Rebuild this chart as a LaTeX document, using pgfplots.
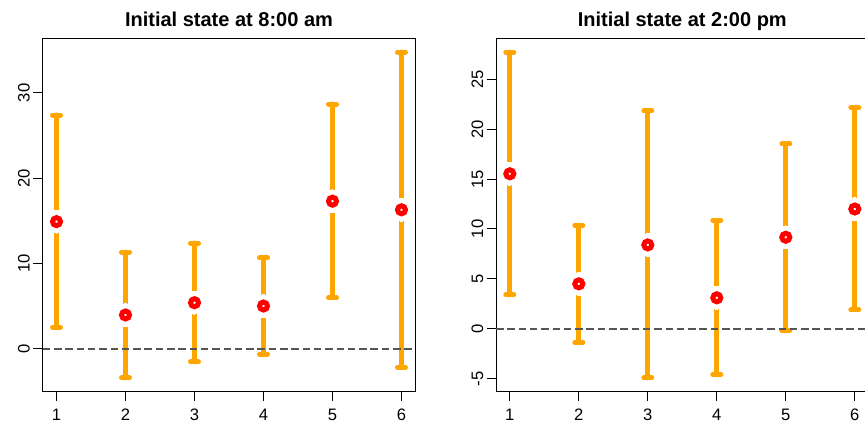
\documentclass[border=0pt]{standalone}
\usepackage{fontspec}
\setmainfont{Liberation Sans}
\usepackage{pgfplots}
\usepackage{pgfplotstable}
\pgfplotsset{compat=1.18}
\definecolor{barorange}{RGB}{255,165,0}
\definecolor{dashgray}{RGB}{85,85,85}
\pgfplotstableread{
x y lo hi
1 14.9 2.5 27.4
2 3.95 -3.44 11.33
3 5.39 -1.56 12.38
4 5.0 -0.63 10.66
5 17.3 5.98 28.7
6 16.29 -2.19 34.8
}\tabAM
\pgfplotstableread{
x y lo hi
1 15.53 3.4 27.73
2 4.5 -1.37 10.37
3 8.4 -4.93 21.83
4 3.1 -4.6 10.83
5 9.17 -0.2 18.53
6 12.0 1.9 22.17
}\tabPM
\pgfplotsset{
  rstyle/.style={
    scale only axis, width=186.3pt, height=176pt,
    xmin=0.8, xmax=6.2, xtick={1,...,6},
    axis line style={line width=0.5pt},
    tick style={black, line width=0.5pt},
    major tick length=4.75pt, tick align=outside,
    xtick pos=bottom, ytick pos=left,
    /pgf/number format/assume math mode=true,
    ticklabel style={font=\fontsize{8.3}{10}\selectfont, inner sep=0pt},
    xticklabel style={anchor=north, yshift=-3.95pt},
    yticklabel style={xshift=-1.45pt, rotate=90, anchor=south},
    every axis title/.style={at={(0.5,1)}, anchor=base, yshift=6.1pt, font=\bfseries\fontsize{10}{12}\selectfont},
  },
  ebars/.style={mark=none, forget plot, draw=none,
    error bars/.cd, y dir=both, y explicit, error mark=|,
    error bar style={draw=barorange, line width=2.5pt, line cap=round},
    error mark options={draw=barorange, line width=2.5pt, mark size=2pt, line cap=round}},
  gapdisk/.style={only marks, color=white, mark=*, mark size=5.7pt, mark options={fill=white, draw=white, line width=0pt}, forget plot},
  redpt/.style={only marks, mark=*, mark size=2pt, mark options={fill=white, draw=red, line width=2.5pt}, forget plot},
  zeroline/.style={dashgray, line width=0.9pt, dash pattern=on 3.75pt off 1.9pt, mark=none, forget plot},
}
\begin{document}
\begin{tikzpicture}
\useasboundingbox (0,0) rectangle (432.5pt,211pt);
\clip (0,0) rectangle (432.5pt,211pt);
\begin{axis}[rstyle, at={(21.35pt,15.5pt)}, anchor=south west,
  ymin=-4.97, ymax=36.33, ytick={0,10,20,30},
  title={Initial state at 8:00 am}]
\addplot[ebars] table[x=x, y=y, y error plus expr=\thisrow{hi}-\thisrow{y}, y error minus expr=\thisrow{y}-\thisrow{lo}] {\tabAM};
\addplot[gapdisk] table[x=x, y=y] {\tabAM};
\addplot[zeroline] coordinates {(0.8,0) (6.2,0)};
\addplot[redpt] table[x=x, y=y] {\tabAM};
\end{axis}
\begin{axis}[rstyle, at={(248pt,15.5pt)}, anchor=south west,
  ymin=-6.24, ymax=29.04, ytick={-5,0,5,10,15,20,25},
  title={Initial state at 2:00 pm}]
\addplot[ebars] table[x=x, y=y, y error plus expr=\thisrow{hi}-\thisrow{y}, y error minus expr=\thisrow{y}-\thisrow{lo}] {\tabPM};
\addplot[gapdisk] table[x=x, y=y] {\tabPM};
\addplot[zeroline] coordinates {(0.8,0) (6.2,0)};
\addplot[redpt] table[x=x, y=y] {\tabPM};
\end{axis}
\end{tikzpicture}
\end{document}
